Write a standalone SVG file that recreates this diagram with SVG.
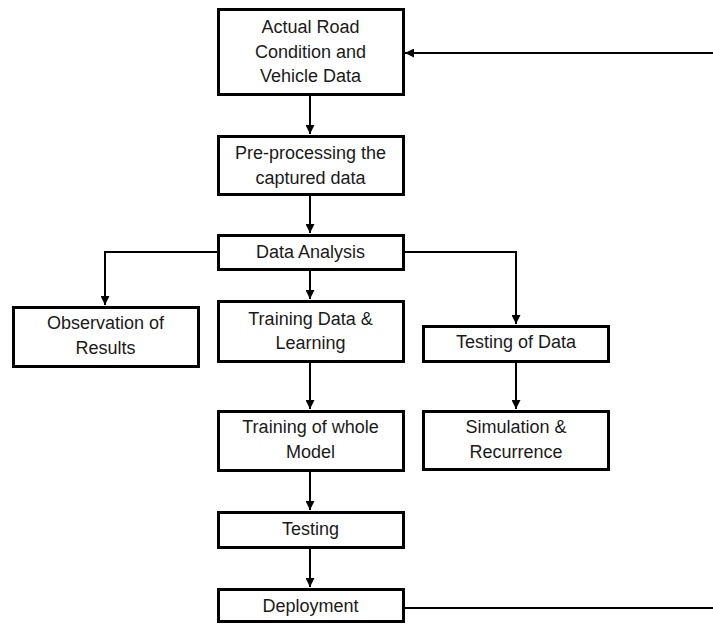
<svg xmlns="http://www.w3.org/2000/svg" width="713" height="624" viewBox="0 0 713 624">
<style>
.box{fill:#fff;stroke:#000;stroke-width:3}
.t{font-family:"Liberation Sans",Arial,sans-serif;font-size:18px;fill:#1a1a1a;text-anchor:middle}
.c{fill:none;stroke:#000;stroke-width:2}
</style>
<defs>
<marker id="ah" viewBox="0 0 10 10" refX="10" refY="5" markerWidth="4.5" markerHeight="4.5" orient="auto" markerUnits="strokeWidth">
<path d="M0,0 L10,5 L0,10 z" fill="#000"/>
</marker>
</defs>
<rect width="713" height="624" fill="#fff"/>
<g id="connectors">
<line class="c" x1="310" y1="96" x2="310" y2="134" marker-end="url(#ah)"/>
<line class="c" x1="310" y1="196" x2="310" y2="233" marker-end="url(#ah)"/>
<polyline class="c" points="217,252 105,252 105,305" marker-end="url(#ah)"/>
<line class="c" x1="310" y1="271" x2="310" y2="299" marker-end="url(#ah)"/>
<polyline class="c" points="405,252 516,252 516,324" marker-end="url(#ah)"/>
<line class="c" x1="516" y1="363" x2="516" y2="409" marker-end="url(#ah)"/>
<line class="c" x1="310" y1="363" x2="310" y2="409" marker-end="url(#ah)"/>
<line class="c" x1="310" y1="472" x2="310" y2="510" marker-end="url(#ah)"/>
<line class="c" x1="310" y1="549" x2="310" y2="587" marker-end="url(#ah)"/>
<line class="c" x1="405" y1="608" x2="713" y2="608" stroke="#333"/>
<line class="c" x1="713" y1="53" x2="405" y2="53" marker-end="url(#ah)"/>
</g>
<g id="n1"><rect class="box" x="218.5" y="9.5" width="185" height="85"/>
<text class="t" x="310.5" y="33">Actual Road</text><text class="t" x="310.5" y="57.5">Condition and</text><text class="t" x="310.5" y="82">Vehicle Data</text></g>
<g id="n2"><rect class="box" x="218.5" y="136.5" width="185" height="58"/>
<text class="t" x="310.5" y="159">Pre-processing the</text><text class="t" x="310.5" y="184">captured data</text></g>
<g id="n3"><rect class="box" x="218.5" y="235.5" width="185" height="34"/>
<text class="t" x="310.5" y="258">Data Analysis</text></g>
<g id="n4"><rect class="box" x="13.5" y="307.5" width="185" height="59"/>
<text class="t" x="105.5" y="329">Observation of</text><text class="t" x="105.5" y="354">Results</text></g>
<g id="n5"><rect class="box" x="218.5" y="301.5" width="185" height="60"/>
<text class="t" x="310.5" y="325">Training Data &amp;</text><text class="t" x="310.5" y="349">Learning</text></g>
<g id="n6"><rect class="box" x="423.5" y="326.5" width="185" height="35"/>
<text class="t" x="516" y="348">Testing of Data</text></g>
<g id="n7"><rect class="box" x="423.5" y="411.5" width="185" height="58"/>
<text class="t" x="516" y="433">Simulation &amp;</text><text class="t" x="516" y="458">Recurrence</text></g>
<g id="n8"><rect class="box" x="218.5" y="411.5" width="185" height="59"/>
<text class="t" x="310.5" y="433">Training of whole</text><text class="t" x="310.5" y="458">Model</text></g>
<g id="n9"><rect class="box" x="218.5" y="512.5" width="185" height="35"/>
<text class="t" x="310.5" y="535">Testing</text></g>
<g id="n10"><rect class="box" x="218.5" y="589.5" width="185" height="32"/>
<text class="t" x="310.5" y="612">Deployment</text></g>
</svg>
